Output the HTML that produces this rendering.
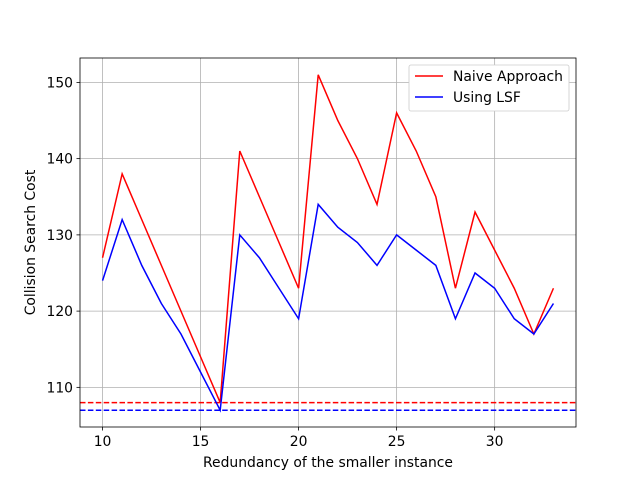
<!DOCTYPE html>
<html><head><meta charset="utf-8"><style>
body{margin:0;background:#fff;}
svg text{font-family:"DejaVu Sans","Liberation Sans",sans-serif;fill:#000;}
</style></head><body>
<svg id="chart" width="640" height="480"></svg>
<script>
const xs=[10,11,12,13,14,15,16,17,18,19,20,21,22,23,24,25,26,27,28,29,30,31,32,33];
const naive=[127,138,132,126,120,114,108,141,135,129,123,151,145,140,134,146,141,135,123,133,128,123,117,123];
const lsf=[124,132,126,121,117,112,107,130,127,123,119,134,131,129,126,130,128,126,119,125,123,119,117,121];
const xTicks=[10,15,20,25,30];
const yTicks=[110,120,130,140,150];
const naiveBase=108, lsfBase=107;
const L=80,R=576,T=58,B=427;
const x0=8.85,x1=34.15,y0=104.8,y1=153.2;
const FS=13.9;
const sx=v=>L+(v-x0)/(x1-x0)*(R-L);
const sy=v=>B-(v-y0)/(y1-y0)*(B-T);
const svg=document.getElementById('chart');
const NS='http://www.w3.org/2000/svg';
function mk(t,a,p){const e=document.createElementNS(NS,t);for(const k in a)e.setAttribute(k,a[k]);(p||svg).appendChild(e);return e;}
const grid=mk('g',{});


xTicks.forEach(v=>{mk('line',{x1:sx(v),x2:sx(v),y1:T,y2:B,stroke:'#b0b0b0','stroke-width':0.8},grid);
 mk('line',{x1:sx(v),x2:sx(v),y1:B,y2:B+3.5,stroke:'#000','stroke-width':0.8});
 const t=mk('text',{x:sx(v),y:B+19,'text-anchor':'middle','font-size':FS});t.textContent=v;
 
 });
yTicks.forEach(v=>{mk('line',{x1:L,x2:R,y1:sy(v),y2:sy(v),stroke:'#b0b0b0','stroke-width':0.8},grid);
 mk('line',{x1:L-3.5,x2:L,y1:sy(v),y2:sy(v),stroke:'#000','stroke-width':0.8});
 const t=mk('text',{x:L-7,y:sy(v)+5,'text-anchor':'end','font-size':FS});t.textContent=v;
 
 });
const h1=mk('line',{x1:L,x2:R,y1:sy(naiveBase),y2:sy(naiveBase),stroke:'red','stroke-width':1.5,'stroke-dasharray':'5.5,2.4'});


const h2=mk('line',{x1:L,x2:R,y1:sy(lsfBase),y2:sy(lsfBase),stroke:'blue','stroke-width':1.5,'stroke-dasharray':'5.5,2.4'});


const p1=mk('polyline',{points:xs.map((v,i)=>sx(v)+','+sy(naive[i])).join(' '),fill:'none',stroke:'red','stroke-width':1.5});


const p2=mk('polyline',{points:xs.map((v,i)=>sx(v)+','+sy(lsf[i])).join(' '),fill:'none',stroke:'blue','stroke-width':1.5});


const fr=mk('rect',{x:L,y:T,width:R-L,height:B-T,fill:'none',stroke:'#000','stroke-width':0.8});


const xl=mk('text',{x:(L+R)/2,y:467,'text-anchor':'middle','font-size':FS});xl.textContent='Redundancy of the smaller instance';


const yl=mk('text',{x:0,y:0,'text-anchor':'middle','font-size':FS,transform:`translate(35,${(T+B)/2}) rotate(-90)`});yl.textContent='Collision Search Cost';


const lg=mk('g',{});


mk('rect',{x:409,y:65,width:160,height:46,rx:2,fill:'#fff',stroke:'#ccc','stroke-width':0.8},lg);
[['Naive Approach','red',76],['Using LSF','blue',97]].forEach(([n,c,y])=>{
 mk('line',{x1:415,x2:443,y1:y,y2:y,stroke:c,'stroke-width':1.5},lg);
 const t=mk('text',{x:453,y:y+5,'font-size':FS},lg);t.textContent=n;
 
 });
</script>
</body></html>
